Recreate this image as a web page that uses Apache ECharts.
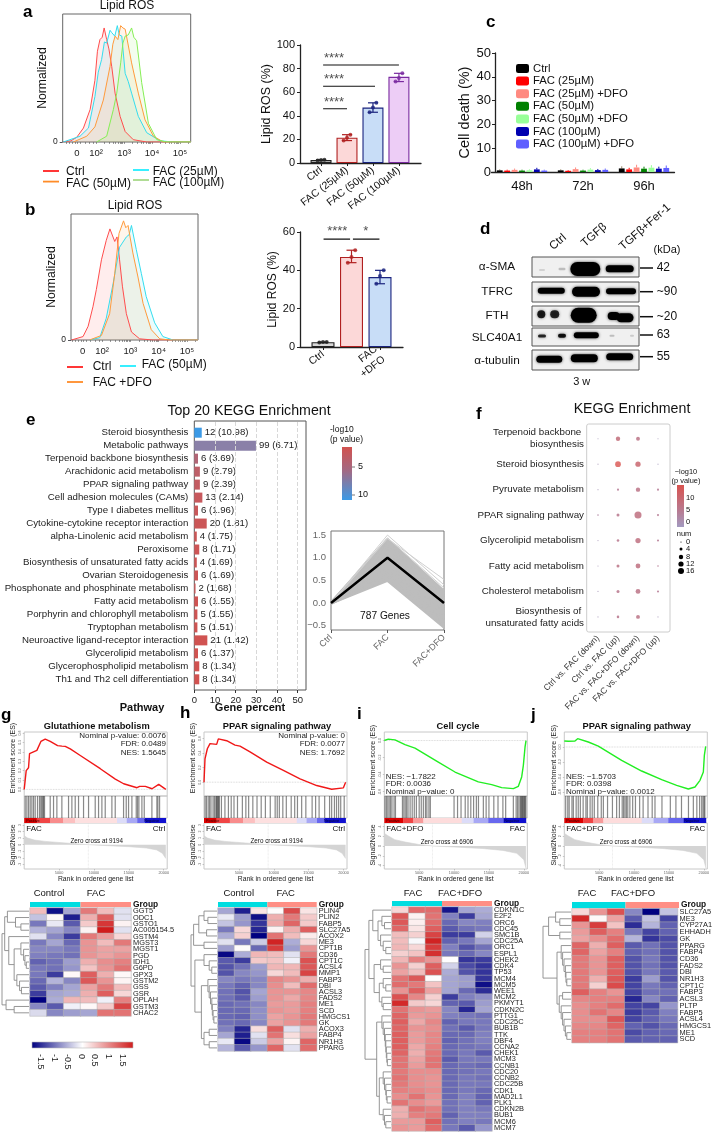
<!DOCTYPE html>
<html><head><meta charset="utf-8">
<style>html,body{margin:0;padding:0;background:#fff}#c{width:715px;height:1133px;filter:blur(.4px)}</style>
<script src="https://cdn.jsdelivr.net/npm/echarts@6/dist/echarts.min.js"></script>
</head><body><div id="c"></div>
<script>
// ---------- DATA ----------
const flowACtrl=[[.83,0],[1.1,1],[1.31,4],[1.55,12],[1.79,28],[1.96,53],[2.05,78],[2.14,88],[2.22,90],[2.29,98],[2.38,88],[2.46,80],[2.56,65],[2.68,42],[2.86,22],[3.04,9],[3.33,2],[3.81,0],[5.38,0]];
const flowA25=[[.83,0],[1.43,5],[1.73,12],[1.96,39],[2.08,60],[2.2,71],[2.3,86],[2.38,85],[2.5,96],[2.56,94],[2.67,91],[2.76,100],[2.83,92],[2.92,91],[3.04,59],[3.15,52],[3.27,42],[3.51,22],[3.81,8],[4.29,1],[4.76,0],[5.38,0]];
const flowA50=[[1.19,0],[1.67,5],[1.96,13],[2.26,36],[2.5,65],[2.6,84],[2.68,91],[2.78,88],[2.88,100],[2.96,98],[3.04,97],[3.27,68],[3.51,42],[3.75,19],[4.05,5],[4.4,0],[5.38,0]];
const flowA100=[[2.02,0],[2.38,5],[2.62,28],[2.74,42],[2.8,41],[2.88,68],[2.96,85],[3.04,91],[3.15,92],[3.27,98],[3.35,90],[3.45,87],[3.63,51],[3.87,16],[4.17,2],[4.52,0],[5.38,0]];
const flowBCtrl=[[.92,0],[1.33,3],[1.51,12],[1.68,29],[1.8,44],[1.98,70],[2.15,87],[2.28,97],[2.33,97],[2.45,86],[2.53,90],[2.62,70],[2.72,47],[2.86,23],[3.04,7],[3.33,1],[3.8,0],[5.39,0]];
const flowB50=[[1.56,0],[1.92,2],[2.15,19],[2.39,49],[2.62,81],[2.86,90],[2.96,92],[3.04,100],[3.21,79],[3.39,58],[3.56,38],[3.86,15],[4.15,3],[4.51,0],[5.39,0]];
const flowBDfo=[[1.56,0],[1.98,4],[2.27,23],[2.45,58],[2.6,93],[2.76,104],[2.84,98],[2.92,100],[3.09,76],[3.27,55],[3.45,32],[3.74,9],[4.04,1],[4.39,0],[5.39,0]];
const flowTicksLabel=[1.32,2,3,4,5];
const flowTickText={1.32:'0',2:'10²',3:'10³',4:'10⁴',5:'10⁵'};
const flowTicksMinor=[.95,1.05,1.15,1.25,1.32,1.45,1.6,1.75,1.9,2,2.3,2.48,2.6,2.7,2.78,2.85,2.9,2.95,3,3.3,3.48,3.6,3.7,3.78,3.85,3.9,3.95,4,4.3,4.48,4.6,4.7,4.78,4.85,4.9,4.95,5,5.3];

const barACats=['Ctrl','FAC (25µM)','FAC (50µM)','FAC (100µM)'];
const barAMeans=[2.5,21.5,47,73];
const barAPoints=[[2.2,2.6,2.7],[19,21.5,24],[43,47,51],[69,72,76]];
const barAFill=['#d8d8d8','#fcd8d8','#c8ddf7','#edcdf6'];
const barAEdge=['#222222','#b02020','#1a237e','#7a2aa0'];
const barBCats=['Ctrl','FAC (50µM)','FAC\n+DFO'];
const barBMeans=[2.5,47,36.5];
const barBPoints=[[2.3,2.6,2.6],[44,47,50.5],[33,37,40]];
const barBFill=['#d8d8d8','#fcd8d8','#c8ddf7'];
const barBEdge=['#222222','#b02020','#1a237e'];

const deathCats=['48h','72h','96h'];
const deathNames=['Ctrl','FAC (25µM)','FAC (25µM) +DFO','FAC (50µM)','FAC (50µM) +DFO','FAC (100µM)','FAC (100µM) +DFO'];
const deathColors=['#000000','#ff0000','#ff8a80','#008000','#99ff99','#0000b0','#5f5fff'];
const deathCtrl=[.7,.7,1.5];
const death25=[.6,.5,1.1];
const death25D=[.9,1.2,1.9];
const death50=[.6,.6,1.4];
const death50D=[.7,1.0,1.8];
const death100=[1.1,.8,1.4];
const death100D=[.6,.9,1.7];

const blotRows=['α-SMA','TFRC','FTH','SLC40A1','α-tubulin'];
const blotMass=['42','~90','~20','63','55'];
const blotFrames=[[0,20],[25,45],[49,69],[71,89],[93,113]];
const blotBands=[[10,13,6,2,.12],[30,12,7,2.5,.2],[53.3,12,30,14,1],[87.7,11.7,28,7,1],
 [19.3,33.7,27,6,1],[54,34.7,28,10,1],[89,34.3,30,6,1],
 [9.3,57.3,8,8,.85],[22.7,57.3,9,8,.8],[51.7,58.3,26,15,1],[81.7,59,12,8,1],[93,60.7,17,9,1],
 [10,79,8,3,.8],[30,78.7,8,4,.9],[54.3,78.3,25,6,1],[80,78.7,5,2,.2],[100,78.7,4,2,.15],
 [17.3,102.3,26,7,1],[52.3,101.3,27,8,1],[87.7,99.7,27,7,1]];

const keggNames=['Steroid biosynthesis','Metabolic pathways','Terpenoid backbone biosynthesis','Arachidonic acid metabolism','PPAR signaling pathway','Cell adhesion molecules (CAMs)','Type I diabetes mellitus','Cytokine-cytokine receptor interaction','alpha-Linolenic acid metabolism','Peroxisome','Biosynthesis of unsaturated fatty acids','Ovarian Steroidogenesis','Phosphonate and phosphinate metabolism','Fatty acid metabolism','Porphyrin and chlorophyll metabolism','Tryptophan metabolism','Neuroactive ligand-receptor interaction','Glycerolipid metabolism','Glycerophospholipid metabolism','Th1 and Th2 cell differentiation'];
const keggCount=[12,99,6,9,9,13,6,20,4,8,4,6,2,6,5,5,21,6,8,8];
const keggLogP=[10.98,6.71,3.69,2.79,2.39,2.14,1.96,1.81,1.75,1.71,1.69,1.69,1.68,1.55,1.55,1.51,1.42,1.37,1.34,1.34];
const keggPercent=[3.6,29.8,1.8,2.7,2.7,3.9,1.8,6,1.2,2.4,1.2,1.8,.6,1.8,1.5,1.5,6.3,1.8,2.4,2.4];

const trendCats=['Ctrl','FAC','FAC+DFO'];
const trendFac=[.5,.55,.6,.64,.68,.72,.76,.8,.84,.88,.92,.96,1,1.04,1.08,1.12,1.16,1.2,1.24,1.28,1.32,1.36,1.4,1.44,1.5,1.42];
const trendDfo=[-.53,-.5,-.47,-.44,-.41,-.38,-.35,-.32,-.29,-.25,-.22,-.18,-.14,-.1,-.06,-.02,.02,.06,.1,.14,.18,.22,.26,.33,.4,.52];
const trendMean=[0,1,0];

const dotRows=['Terpenoid backbone \nbiosynthesis','Steroid biosynthesis','Pyruvate metabolism','PPAR signaling pathway','Glycerolipid metabolism','Fatty acid metabolism','Cholesterol metabolism','Biosynthesis of \nunsaturated fatty acids'];
const dotCols=['Ctrl vs. FAC (down)','Ctrl vs. FAC (up)','FAC vs. FAC+DFO (down)','FAC vs. FAC+DFO (up)'];
const dotNum=[[0,7,6,0],[0,10,9,0],[0,2,7,2],[1,4,13,2],[0,3,9,2],[0,4,8,1],[0,4,8,2],[0,3,6,0]];
const dotLogP=[[.5,7,5,.5],[.5,13,9,.3],[.5,3,5,3],[2,4,6,3],[.5,4,6,3],[.5,5,6,3],[.5,4,5,3],[.5,4,5,.5]];

const gseaGEs=[[0,0],[287,.2],[622,.23],[766,.38],[1818,.415],[2392,.51],[3014,.535],[3732,.51],[4785,.465],[5407,.46],[5885,.457],[6603,.43],[8038,.36],[10909,.22],[13062,.11],[14258,.06],[16172,.018],[16555,.032],[17368,.032],[18325,.007],[19282,.053],[20300,0]];
const gseaHEs=[[0,0],[143,.32],[478,.46],[860,.53],[1816,.52],[2055,.595],[3250,.57],[4446,.51],[5163,.495],[6597,.416],[8988,.277],[11378,.162],[13769,.046],[16159,-.046],[18310,-.097],[19984,-.078],[20300,0]];
const gseaIEs=[[0,0],[574,.016],[1530,.008],[2964,-.047],[4398,-.089],[7744,-.252],[10134,-.369],[13480,-.485],[15392,-.517],[16826,-.552],[18500,-.563],[19217,-.536],[19695,-.427],[19934,-.291],[20173,-.078],[20317,0]];
const gseaJEs=[[0,.08],[574,.076],[1530,.08],[1912,.111],[3441,.067],[4875,.013],[8221,-.178],[11089,-.32],[13957,-.436],[16108,-.511],[17781,-.56],[18737,-.533],[19454,-.444],[19934,-.333],[20078,-.111],[20269,.009]];
const gseaGHits=[143,382,621,860,1099,1338,1577,1912,2199,2390,2533,2677,2772,2916,3728,4206,4684,5401,6357,6835,7313,7791,8508,9225,10181,10659,11137,11615,12571,13049,14244,14627,14961,15439,16061,16252,16443,16873,17208,18307,19024,19168,19407];
const gseaHHits=[150,350,600,800,1000,1300,1500,1700,1800,1900,2000,2100,2200,2500,3000,3500,3900,4300,4800,5500,6000,6400,7000,7600,8200,8800,9500,10200,10500,10800,11300,11800,12500,13000,13400,14000,14600,15500,16000,16500,17300,18000,18300,18700,19000,19300,19600,20100];
const gseaIHits=[100,300,500,700,900,1100,1400,1600,2600,2800,3000,3200,3400,3700,4000,4300,4600,5000,5300,5600,5900,6100,6400,6600,10000,10500,11000,11600,12000,12400,12800,13200,13500,14200,14600,15000,15700,16300,17000,17400,18500,18900,19100,19300,19500,19600,19700,19800,19900,20000,20100,20200,20300];
const gseaJHits=[200,500,700,1100,1300,1700,2000,2300,2700,3100,3300,3700,4000,4300,4800,5300,5600,6200,6900,7500,7900,8300,8500,8700,8900,9100,9400,9800,10200,10800,11300,12000,12600,13000,14000,15200,16000,16800,17800,18500,19000,19400,19700,19900,20050,20150];
const stripStopsA=[0,1800,3700,5600,7300,13300,14700,16200,17300,20300];
const stripStopsB=[0,2700,4150,5600,11100,12800,14900,17100,20300];
const stripColorsA=['#dd0000','#f04545','#f88c8c','#fcc0c0','#fde0e0','#dcdcf8','#a8a8f4','#6868ee','#1010d0'];
const stripColorsB=['#dd0000','#f04545','#f89a9a','#fddcdc','#dcdcf8','#a8a8f4','#6868ee','#1010d0'];
const rankA=[[0,1.35],[500,1.0],[1500,.7],[3000,.5],[6000,.25],[9194,0],[12000,-.15],[15000,-.3],[17500,-.5],[19000,-.8],[19800,-1.3],[20300,-2.1]];
const rankB=[[0,2.6],[400,2.2],[1500,1.3],[3000,.8],[5000,.3],[6906,0],[10000,-.2],[14000,-.5],[17000,-.9],[19000,-1.5],[20000,-2.8],[20300,-4.5]];

const hmGGenes=['GGT5','ODC1','GSTO1','AC005154.5','GSTM4','MGST3','MGST1','PGD','IDH1','G6PD','GPX3','GSTM2','GSS','GSR','OPLAH','GSTM3','CHAC2'];
const hmG=[[.5,-1.6,-.6,1,.5,-.2],[-.4,.05,-1.5,.6,1.2,-.2],[-.9,-.15,-1.1,.4,1.5,.1],[-.5,-.6,-.8,.1,1.7,-.2],[-.2,-.8,-1.3,1,.75,.3],[-.9,-.6,-1,.8,.5,1],[-.8,-.8,-.9,.8,.7,.7],[-.85,-.9,-.95,.8,.7,.8],[-1.05,-.95,-.65,.6,.85,.95],[-.9,-.95,-.7,.45,.8,1.05],[-.9,-1.3,.05,1.2,.6,.05],[-1,-.5,-.8,1.25,.8,.08],[-1.1,-.85,-.6,.7,1,.5],[-1.3,-.6,-.55,.6,1.2,.3],[-1.7,-.55,.55,.5,-.1,.95],[-.8,-1.1,-.1,.05,.4,1.4],[-.25,-.8,-.65,-.6,1.05,1.05]];
const hmHGenes=['PLIN4','PLIN2','FABP5','SLC27A5','ACOX2','ME3','CPT1B','CD36','CPT1C','ACSL4','MMP1','FABP3','DBI','ACSL3','FADS2','ME1','SCD','HMGCS1','GK','ACOX3','FABP4','NR1H3','PPARG'];
const hmH=[[-.6,-1.5,.2,.02,1.35,.2],[-.15,-.65,-1.6,.6,1,.4],[-.4,-.7,-1.35,.65,1.15,.4],[-.9,.3,-1.45,.1,.6,1.2],[-.55,.35,-1.7,1.05,.5,.15],[-.2,-.9,-.35,1.65,-.55,.3],[-.65,.03,-1,1.45,-.65,.8],[-1.65,-.55,.55,.5,-.2,1],[-1.1,-1.3,.4,.45,-.1,1.3],[-1.15,-.95,-.65,.55,.55,1.25],[-1.15,-.8,-.7,.3,.5,1.4],[-.8,-.9,-.8,.9,.8,.6],[-.9,-1.05,-.8,.85,.5,1.1],[-.95,-1.15,-.6,.8,.8,.9],[-.95,-1.1,-.65,.8,.65,.9],[-1,-.95,-.8,.75,.75,.95],[-1,-1,-.75,.8,.75,.95],[-1,-1.05,-.75,.7,.8,1],[-.95,-1,-.8,.7,.8,1],[-.85,-1.45,.25,1.2,-.2,.6],[-.6,-1.5,-.2,1.05,.25,.7],[-.15,-1.65,-.35,.7,.08,1.15],[-.5,-1.1,-.7,1.15,-.2,1.1]];
const hmIGenes=['CDKN1C','E2F2','ORC6','CDC45','SMC1B','CDC25A','ORC1','ESPL1','CHEK2','CDK4','TP53','MCM4','MCM5','WEE1','MCM2','PKMYT1','CDKN2C','PTTG1','CDC25C','BUB1B','TTK','DBF4','CCNA2','CHEK1','MCM3','CCNB1','CDC20','CCNB2','CDC25B','CDK1','MAD2L1','PLK1','CDKN2B','BUB1','MCM6','MCM7'];
const hmI=[[.3,1.1,1.1,-1.55,-.6,-.55],[1.25,.1,1.05,-.85,-1.3,-.6],[1.25,.12,1.1,-1,-.8,-.85],[1.15,.2,1.2,-1.1,-.95,-.9],[.5,.35,1.4,-1.3,-1.3,-.3],[.5,-.05,1.65,-1.05,-.9,-.6],[.55,.3,1.45,-.85,-1.15,-.95],[.35,.45,1.55,-.9,-1,-.8],[.55,.95,.8,.01,-1.35,-1.3],[.8,.35,1.2,-.3,-1.2,-1.35],[.7,.5,1.3,-.55,-1.15,-1.35],[1.05,1.25,.02,-.6,-.65,-1.35],[1.1,1,.45,-.6,-.65,-1.6],[.8,1.2,.7,-.6,-1,-1.4],[1.3,.9,.35,-1.3,-.85,-.75],[1.6,.4,.3,-1.05,-1.1,-.65],[1.05,.8,.75,-.8,-1.45,-.6],[1.15,.75,.8,-.85,-.9,-.95],[1.2,.65,.9,-1.05,-.9,-.9],[1.15,.8,.85,-.95,-1.1,-.9],[1.2,.75,.9,-1,-1,-.85],[1.2,.75,.9,-1.05,-.95,-.85],[1.2,.65,.95,-1,-.95,-.9],[1.15,.6,1,-1,-.9,-1.1],[1.05,.7,1.05,-1.1,-.9,-.9],[1.05,.75,1.05,-1,-.95,-1],[1,.85,.85,-1,-.95,-.9],[1.05,.85,.8,-1,-.9,-.95],[1,.85,.8,-1,-.9,-.9],[.95,.9,.85,-1,-.9,-1],[.85,1.05,.8,-1,-.85,-1.05],[1.05,.85,.75,-.95,-.85,-1.05],[.6,1.05,.95,-.95,-.85,-.9],[.6,.95,1,-1.05,-.85,-.85],[.75,.75,1.2,-.95,-.85,-.9],[.8,.75,1.1,-.9,-1.1,-.7]];
const hmJGenes=['SLC27A5','ME3','CYP27A1','EHHADH','GK','PPARG','FABP4','CD36','FADS2','DBI','NR1H3','CPT1C','FABP3','ACSL3','PLTP','FABP5','ACSL4','HMGCS1','ME1','SCD'];
const hmJ=[[.3,.8,1.3,-.8,-1.7,-.4],[1.6,.05,.7,-1.1,-.4,-1.25],[.8,1.45,.45,-1.4,-.5,-1.05],[.75,1.2,.95,-.9,-1.25,-1.05],[.7,.85,1.1,-.5,-1.35,-1.2],[1.15,.6,1.2,-1.1,-.95,-1.15],[1.15,.7,.95,-1.05,-.95,-1.15],[1,.8,1.2,-1.15,-.9,-1.15],[1,.8,1.2,-1.15,-.95,-1.15],[1,.8,1.2,-1.15,-.9,-1.1],[1,.6,1.25,-1.3,-.65,-1.15],[1,.35,1.35,-1.25,-.9,-1.05],[1.2,.95,.8,-1.25,-.95,-.95],[.9,.95,.95,-1.45,-.8,-1.05],[.85,.95,1.1,-1.25,-1.25,-.7],[.85,1.05,.9,-1.3,-1.1,-.85],[.85,.85,1.25,-1.25,-1.05,-.9],[.9,.9,1.15,-1.05,-1.15,-1],[.95,.95,1.05,-1.2,-1.05,-1],[.95,.95,1.05,-1.1,-1.05,-1.05]];
const treeG=[1,[.9,[.8,0,[.5,1,[.3,2,3]]],[.75,4,[.55,[.3,5,[.2,6,[.15,7,[.1,8,9]]]],[.45,10,[.35,11,[.28,12,13]]]]]],[.85,14,[.55,15,16]]];
const treeH=[1,[.9,[.7,[.5,0,[.35,1,2]],[.4,3,4]],[.5,5,6]],[.85,[.5,7,[.3,8,[.2,9,10]]],[.6,[.35,11,[.3,12,[.25,13,[.2,14,[.18,15,[.15,16,[.12,17,18]]]]]]],[.5,[.3,19,20],[.3,21,22]]]]];
const treeI=[1,[.85,[.7,0,[.5,[.35,1,[.25,2,3]],[.4,4,[.3,5,[.2,6,7]]]]],[.65,[.4,8,[.3,9,10]],[.45,[.3,11,[.2,12,13]],[.35,14,[.3,15,16]]]]],[.55,[.35,17,[.3,18,[.25,19,[.22,20,[.2,21,[.18,22,[.16,23,[.14,24,25]]]]]]]],[.45,[.3,26,[.25,27,[.2,28,[.18,29,[.15,30,31]]]]],[.3,32,[.25,33,[.2,34,35]]]]]];
const treeJ=[1,[.8,[.55,0,[.4,1,2]],[.4,3,4]],[.5,[.35,5,[.3,6,[.25,7,[.2,8,[.18,9,[.15,10,11]]]]]],[.42,[.3,12,13],[.35,14,[.3,15,[.25,16,[.2,17,[.15,18,19]]]]]]]];

// ---------- BUILD ----------
const FF='"Liberation Sans",Arial,sans-serif';
const grids=[],xAxes=[],yAxes=[],series=[],gfx=[];
function panel(l,t,w,h,gx,x,y){grids.push(Object.assign({left:l,top:t,width:w,height:h},gx||{}));const i=grids.length-1;
 xAxes.push(Object.assign({gridIndex:i},x));yAxes.push(Object.assign({gridIndex:i},y));return i;}
function S(i,o){series.push(Object.assign({xAxisIndex:i,yAxisIndex:i,animation:false,silent:true},o));}
function T(x,y,text,size,o){o=o||{};gfx.push({type:'text',x,y,z:100,rotation:o.rot||0,silent:true,style:{text,font:(o.bold?'bold ':'')+size+'px '+FF,fill:o.fill||'#111',textAlign:o.align||'left',textVerticalAlign:'middle'}});}
function L(x1,y1,x2,y2,c,w){gfx.push({type:'line',z:100,silent:true,shape:{x1,y1,x2,y2},style:{stroke:c,lineWidth:w||1.5}});}
const hide={type:'value',show:false};

// flow histograms
function flow(l,t,w,h,xmin,xmax,curves,yName,gap){
 const i=panel(l,t,w,h,{show:true,borderColor:'#666',borderWidth:1,backgroundColor:'transparent'},
  {type:'value',min:xmin,max:xmax,axisLine:{show:false,onZero:false},splitLine:{show:false},
   axisTick:{customValues:flowTicksMinor,length:2,lineStyle:{color:'#555',width:.6}},
   axisLabel:{customValues:flowTicksLabel,formatter:v=>flowTickText[v],fontSize:9.5,color:'#222',fontFamily:FF,margin:6,showMinLabel:true,showMaxLabel:true}},
  {type:'value',min:0,max:110,splitLine:{show:false},axisLine:{show:false},name:yName,nameLocation:'middle',nameGap:gap,nameTextStyle:{fontSize:12.2,color:'#111',fontFamily:FF},
   axisTick:{customValues:[0],length:3},axisLabel:{customValues:[0],fontSize:8.5,color:'#222',fontFamily:FF,margin:5,showMinLabel:true}});
 curves.forEach(c=>S(i,{type:'line',data:c[0],showSymbol:false,lineStyle:{color:c[1],width:1},itemStyle:{color:c[1]},areaStyle:{color:c[1],opacity:.1},z:3}));
}
flow(62.7,14,128,128,.81,5.38,[[flowACtrl,'#ff4d4d'],[flowA25,'#33ddee'],[flowA50,'#ff9a3c'],[flowA100,'#86ee55']],'Normalized',9);
flow(71,214,127,126,.905,5.39,[[flowBCtrl,'#ff4d4d'],[flowB50,'#33ddee'],[flowBDfo,'#ff9a3c']],'Normalized',2);
T(127,6,'Lipid ROS',12,{align:'center'});T(135,206,'Lipid ROS',12,{align:'center'});
[[43,59,171,'#ff2020','Ctrl',66,172],[43,59,181.6,'#ff8c28','FAC (50µM)',66,184],[133,149,170,'#22eeff','FAC (25µM)',152.7,172],[133,149,180,'#a8d88a','FAC (100µM)',152.7,183]].forEach(a=>{L(a[0],a[2],a[1],a[2],a[3],1.8);T(a[5],a[6],a[4],12);});
[[67,83,367,'#ff2020','Ctrl',92.7,367],[67,83,382,'#ff8c28','FAC +DFO',92.7,383],[120,136,366,'#22eeff','FAC (50µM)',141.7,365]].forEach(a=>{L(a[0],a[2],a[1],a[2],a[3],1.8);T(a[5],a[6],a[4],12);});

// bar + error + dots
function barPanel(l,t,w,h,xmin,xmax,ymax,yInt,cats,means,pts,fill,edge,bw,yName,gap,fs,nfs){
 const idx=cats.map((c,k)=>k);
 const i=panel(l,t,w,h,{},
  {type:'value',min:xmin,max:xmax,splitLine:{show:false},axisLine:{onZero:false,lineStyle:{color:'#222',width:1.3}},
   axisTick:{customValues:idx,length:3,lineStyle:{color:'#222'}},
   axisLabel:{customValues:idx,formatter:v=>cats[v],rotate:38,fontSize:fs,color:'#111',fontFamily:FF,margin:6,lineHeight:13,showMinLabel:true,showMaxLabel:true}},
  {type:'value',min:0,max:ymax,interval:yInt,splitLine:{show:false},axisLine:{show:true,onZero:false,lineStyle:{color:'#222',width:1.3}},axisTick:{show:true,length:3,lineStyle:{color:'#222'}},
   axisLabel:{fontSize:11,color:'#111',fontFamily:FF,margin:5},name:yName,nameLocation:'middle',nameGap:gap,nameTextStyle:{fontSize:nfs,color:'#111',fontFamily:FF}});
 S(i,{type:'bar',barWidth:bw,data:means.map((m,k)=>({value:[k,m],itemStyle:{color:fill[k],borderColor:edge[k],borderWidth:1.1}})),z:2});
 S(i,{type:'custom',z:3,data:means.map((m,k)=>[k,Math.min(...pts[k]),Math.max(...pts[k])]),clip:false,renderItem:(p,api)=>{
   const a=api.coord([api.value(0),api.value(1)]),b=api.coord([api.value(0),api.value(2)]),c=edge[p.dataIndex],st={stroke:c,lineWidth:1.2},d=5;
   return {type:'group',children:[{type:'line',shape:{x1:a[0],y1:a[1],x2:b[0],y2:b[1]},style:st},{type:'line',shape:{x1:a[0]-d,y1:a[1],x2:a[0]+d,y2:a[1]},style:st},{type:'line',shape:{x1:b[0]-d,y1:b[1],x2:b[0]+d,y2:b[1]},style:st}]};}});
 pts.forEach((arr,k)=>S(i,{type:'scatter',z:4,symbolSize:4,itemStyle:{color:edge[k]},data:arr.map((v,n)=>[k+(n-1)*.13,v])}));
 return i;
}
function sig(i,a,b,y,lab,tx,ly){S(i,{type:'line',showSymbol:false,z:5,lineStyle:{color:'#111',width:1.1},data:[[a,y],[b,y]]});
 S(i,{type:'scatter',z:5,symbolSize:0,data:[[tx,y]],label:{show:true,formatter:lab,position:'top',distance:ly,fontSize:13,color:'#222',fontFamily:FF}});}
const ba=barPanel(300,45,121,118,-.81,3.85,100,20,barACats,barAMeans,barAPoints,barAFill,barAEdge,21,'Lipid ROS (%)',26,10.5,12.5);
sig(ba,.08,3,83,'****',.5,0);sig(ba,.08,2.08,65,'****',.5,0);sig(ba,.08,1,46,'****',.5,0);
const bb=barPanel(300,232,103,115,-.807,2.807,60,20,barBCats,barBMeans,barBPoints,barBFill,barBEdge,23,'Lipid ROS (%)',19,10.5,12);
sig(bb,.02,.95,56.3,'****',.5,1);sig(bb,1.05,1.98,56.3,'*',1.5,1);

// c
const cg=panel(491.5,53,183,119,{},
 {type:'category',data:deathCats,axisLine:{lineStyle:{color:'#222',width:1.3}},axisTick:{show:false},axisLabel:{fontSize:13,color:'#111',fontFamily:FF,margin:8}},
 {type:'value',min:0,max:50,interval:10,offset:-3.5,splitLine:{show:false},axisLine:{show:true,lineStyle:{color:'#222',width:1.3}},axisTick:{show:true,length:3,lineStyle:{color:'#222'}},axisLabel:{fontSize:13,color:'#111',fontFamily:FF,margin:4},
  name:'Cell death (%)',nameLocation:'middle',nameGap:22,nameTextStyle:{fontSize:14.5,color:'#111',fontFamily:FF}});
[deathCtrl,death25,death25D,death50,death50D,death100,death100D].forEach((d,k)=>{
 S(cg,{type:'bar',name:deathNames[k],data:d,barWidth:5.8,barGap:'28%',itemStyle:{color:deathColors[k]},z:3});
 S(cg,{type:'custom',z:2,data:d.map((v,c)=>[c,v]),renderItem:(p,api)=>{const a=api.coord([api.value(0),api.value(1)]),b=api.coord([api.value(0),api.value(1)*1.6]),x=a[0]+(k-3)*7.42;
   return {type:'line',shape:{x1:x,y1:a[1],x2:x,y2:b[1]},style:{stroke:deathColors[k]==='#000000'?'#998866':deathColors[k],lineWidth:1}};}});
});

// d blots
const blot=panel(532,257,107,113,{},Object.assign({},hide,{min:0,max:107}),Object.assign({},hide,{min:0,max:113,inverse:true}));
S(blot,{type:'custom',z:2,data:blotFrames,renderItem:(p,api)=>{const a=api.coord([0,api.value(0)]),b=api.coord([107,api.value(1)]);
  return {type:'rect',shape:{x:a[0],y:a[1],width:b[0]-a[0],height:b[1]-a[1]},style:{fill:'#f0f0f0',stroke:'#555',lineWidth:1}};}});
S(blot,{type:'custom',z:3,data:blotBands,renderItem:(p,api)=>{const c=api.coord([api.value(0),api.value(1)]),w=api.value(2),h=api.value(3),k=api.value(4);
  return {type:'rect',shape:{x:c[0]-w/2,y:c[1]-h/2,width:w,height:h,r:h/2},style:{fill:'rgba(0,0,0,'+k+')',shadowBlur:3,shadowColor:'rgba(0,0,0,'+k*.7+')'}};}});
blotRows.forEach((r,k)=>T(497,[267,292,315.7,337.7,360.7][k],r,11.8,{align:'center'}));
blotMass.forEach((r,k)=>{const y=[268,291.7,316.7,335,356.7][k];T(656.7,y,r,12);L(640,y,653,y,'#111',1.5);});
T(558,242,'Ctrl',11.5,{align:'center',rot:.72});T(594,235,'TGFβ',11.5,{align:'center',rot:.72});T(645,227,'TGFβ+Fer-1',11.5,{align:'center',rot:.72});
T(667,250,'(kDa)',11,{align:'center'});T(581.7,381.7,'3 w',11,{align:'center'});

// e bars
function lerpHex(a,b,t){const p=h=>[1,3,5].map(i=>parseInt(h.substr(i,2),16));const A=p(a),B=p(b);return 'rgb('+A.map((v,i)=>Math.round(v+(B[i]-v)*t)).join(',')+')';}
function ramp(v,st){if(v<=st[0][0])return st[0][1];for(let i=1;i<st.length;i++)if(v<=st[i][0])return lerpHex(st[i-1][1],st[i][1],(v-st[i-1][0])/(st[i][0]-st[i-1][0]));return st[st.length-1][1];}
const eRamp=[[1.3,'#d2524f'],[6.7,'#8a80a8'],[11,'#3c9ae6']];
const ef=panel(194.3,421,111.7,269,{show:true,borderColor:'#555',borderWidth:1},
 {type:'value',min:0,max:54,splitLine:{show:false},axisLine:{show:false,onZero:false},axisTick:{customValues:[0,10,20,30,40,50],length:3,lineStyle:{color:'#333'}},axisLabel:{customValues:[0,10,20,30,40,50],fontSize:9.5,color:'#222',fontFamily:FF,margin:5}},
 Object.assign({},hide,{min:0,max:1}));
S(ef,{type:'line',data:[],markLine:{silent:true,symbol:'none',label:{show:false},animation:false,lineStyle:{type:'dashed',color:'#d8d8d8',width:1},data:[{xAxis:10},{xAxis:20},{xAxis:30},{xAxis:40},{xAxis:50}]}});
const eb=panel(194.3,426.2,111.7,259.6,{},Object.assign({},hide,{min:0,max:54}),
 {type:'category',inverse:true,data:keggNames,axisLine:{show:false},axisTick:{length:4,lineStyle:{color:'#333'}},axisLabel:{interval:0,fontSize:9.7,color:'#222',fontFamily:FF,margin:6}});
S(eb,{type:'bar',barWidth:10,z:4,data:keggPercent.map((v,k)=>({value:v,itemStyle:{color:ramp(keggLogP[k],eRamp)},label:{formatter:keggCount[k]+' ('+keggLogP[k].toFixed(2)+')'}})),label:{show:true,position:'right',distance:3,fontSize:9.6,color:'#222',fontFamily:FF}});
T(249,411,'Top 20 KEGG Enrichment',14.2,{align:'center'});
T(142,708,'Pathway',11,{align:'center',bold:true});T(250,708,'Gene percent',11,{align:'center',bold:true});
T(330,429.5,'-log10',8.5);T(330,440,'(p value)',8.5);
gfx.push({type:'rect',z:100,silent:true,shape:{x:342,y:447,width:10,height:53},style:{fill:new echarts.graphic.LinearGradient(0,0,0,1,[{offset:0,color:'#d2524f'},{offset:.45,color:'#a26a84'},{offset:1,color:'#3c9ae6'}])}});
L(352,467,355,467,'#555',.8);L(352,495,355,495,'#555',.8);T(358,467,'5',9);T(358,495,'10',9);

// e trend
const tr=panel(331,531,113,99,{show:true,borderColor:'#777',borderWidth:1},
 {type:'category',boundaryGap:false,data:trendCats,axisLine:{show:false,onZero:false},axisTick:{length:3,lineStyle:{color:'#555'}},axisLabel:{rotate:45,fontSize:9,color:'#666',fontFamily:FF,margin:6,interval:0,showMinLabel:true,showMaxLabel:true}},
 {type:'value',min:-.595,max:1.59,splitLine:{show:false},axisLine:{show:false},axisTick:{customValues:[-.5,0,.5,1,1.5],length:3,lineStyle:{color:'#555'}},axisLabel:{customValues:[-.5,0,.5,1,1.5],formatter:v=>v.toFixed(1).replace('-','−'),fontSize:9.5,color:'#666',fontFamily:FF,margin:5}});
trendFac.forEach((f,k)=>S(tr,{type:'line',showSymbol:false,z:2,lineStyle:{color:k>=23?'#d0d0d0':'#bdbdbd',width:k>=23?1:3},data:[0,f,trendDfo[k]]}));
S(tr,{type:'line',showSymbol:false,z:4,lineStyle:{color:'#000',width:2.4},data:trendMean});
T(385,616,'787 Genes',10.2,{align:'center'});

// f
const fRamp=[[0,'#a39ac0'],[3,'#b0708c'],[8,'#c0606a'],[13,'#d9534f']];
const fg=panel(588,426,80,203.6,{},
 {type:'category',data:dotCols,offset:2.4,axisLine:{show:false},axisTick:{alignWithLabel:true,length:2,lineStyle:{color:'#777'}},axisLabel:{interval:0,rotate:45,fontSize:8.6,color:'#333',fontFamily:FF,margin:5}},
 {type:'category',inverse:true,data:dotRows,axisLine:{show:false},axisTick:{alignWithLabel:true,length:2,lineStyle:{color:'#777'}},axisLabel:{interval:0,fontSize:9.8,color:'#222',fontFamily:FF,margin:4,lineHeight:12}});
const dotData=[];dotNum.forEach((r,y)=>r.forEach((n,x)=>dotData.push({value:[x,y,n],symbolSize:1.2+n*.45,itemStyle:{color:ramp(dotLogP[y][x],fRamp)}})));
S(fg,{type:'scatter',data:dotData,z:3});
gfx.push({type:'rect',z:1,silent:true,shape:{x:586.7,y:424,width:83.3,height:208,r:2},style:{fill:'none',stroke:'#ccc',lineWidth:1}});
T(632,409,'KEGG Enrichment',14.2,{align:'center'});
T(686,472,'−log10',7.4,{align:'center'});T(686,481,'(p value)',7.4,{align:'center'});
gfx.push({type:'rect',z:100,silent:true,shape:{x:677,y:485,width:7,height:42},style:{fill:new echarts.graphic.LinearGradient(0,0,0,1,[{offset:0,color:'#d9534f'},{offset:.6,color:'#b87a90'},{offset:1,color:'#a39ac0'}])}});
[['10',498],['5',510],['0',522]].forEach(a=>T(686,a[1],a[0],7.5));
T(684,534,'num',7.5,{align:'center'});
[['0',542,.6],['4',549,1.5],['8',557,2.2],['12',564,2.6],['16',571,3]].forEach(a=>{T(686,a[1],a[0],7.5);gfx.push({type:'circle',z:100,silent:true,shape:{cx:681,cy:a[1],r:a[2]},style:{fill:'#000'}});});

// GSEA
function gsea(c){
 const W=c.w,Lf=c.l;
 const box={show:true,borderColor:'#c8c8c8',borderWidth:1};
 const xa={type:'value',min:0,max:20500,splitLine:{show:false},axisLine:{show:false,onZero:false},axisTick:{show:false},axisLabel:{show:false}};
 const es=panel(Lf,732,W,64,box,xa,{type:'value',min:c.ymin,max:c.ymax,splitLine:{show:false},axisLine:{show:false},axisTick:{customValues:c.yt,length:1.5,lineStyle:{color:'#999',width:.5}},axisLabel:{customValues:c.yt,formatter:v=>v.toFixed(1),rotate:90,fontSize:3.6,color:'#666',margin:2}});
 S(es,{type:'line',z:2,showSymbol:false,lineStyle:{color:'#ccc',width:.8,type:'dotted'},data:[[0,0],[20500,0]]});
 S(es,{type:'line',z:3,showSymbol:false,lineStyle:{color:c.color,width:1.4},data:c.es});
 const hi=panel(Lf,796,W,22,box,xa,Object.assign({},hide,{min:0,max:1}));
 S(hi,{type:'scatter',symbol:'rect',symbolSize:[1.2,22],itemStyle:{color:'#333',opacity:.58},data:c.hits.map(r=>[r,.5])});
 const st=panel(Lf,818,W,5,{},xa,Object.assign({},hide,{min:0,max:1}));
 S(st,{type:'custom',data:c.cols.map((col,k)=>({value:[c.stops[k],c.stops[k+1]],itemStyle:{color:col}})),renderItem:(p,api)=>{const a=api.coord([api.value(0),1]),b=api.coord([api.value(1),0]);
   return {type:'rect',shape:{x:a[0],y:a[1],width:b[0]-a[0]+.3,height:b[1]-a[1]},style:{fill:api.visual('color')}};}});
 T(Lf+2,820.5,'Positive',3.8,{fill:'#300'});T(Lf+W-8,820.5,'Negative',3.8,{align:'right',fill:'#003'});
 const rk=panel(Lf,823,W,46,box,
  Object.assign({},xa,{axisTick:{show:true,customValues:[5000,10000,15000,20000],length:1.5,lineStyle:{color:'#999',width:.5}},axisLabel:{show:true,customValues:[5000,10000,15000,20000],formatter:v=>String(v),fontSize:3.8,color:'#666',margin:2}}),
  {type:'value',min:c.rmin,max:c.rmax,splitLine:{show:false},axisLine:{show:false},axisTick:{customValues:c.rt,length:1.5,lineStyle:{color:'#999',width:.5}},axisLabel:{customValues:c.rt,rotate:90,fontSize:3.6,color:'#666',margin:2}});
 S(rk,{type:'line',z:2,showSymbol:false,lineStyle:{color:'#d4d4d4',width:.6},areaStyle:{color:'#d4d4d4',opacity:1,origin:0},data:c.rank});
 S(rk,{type:'line',z:3,showSymbol:false,lineStyle:{color:'#ddd',width:.7,type:'dotted'},data:[[c.zero,c.rmin],[c.zero,c.rmax]]});
 T(c.tx,726,c.title,9.3,{align:'center',bold:true});
 c.stats.forEach((s,k)=>T(c.sx,c.sy[k],s,8,{align:c.sa,fill:'#222'}));
 T(Lf+2,828.4,c.left,8);T(Lf+W-2,828.4,c.right,8,{align:'right'});
 T(c.zx,c.zy,c.ztext,6.3,{align:'center'});
 T(c.lx,c.ly,'Enrichment score (ES)',7,{align:'center',rot:Math.PI/2,fill:'#222'});
 T(c.lx,845,'Signal2Noise',7,{align:'center',rot:Math.PI/2,fill:'#222'});
 T(Lf+W/2,879.4,'Rank in ordered gene list',6.8,{align:'center',fill:'#222'});
}
const sR=[736,744,752.5],sL=[777,784,792];
gsea({l:24.2,w:143,ymin:-.07,ymax:.61,yt:[0,.1,.2,.3,.4,.5,.6],color:'#f01818',es:gseaGEs,hits:gseaGHits,stops:stripStopsA,cols:stripColorsA,rank:rankA,zero:9194,rmin:-3.7,rmax:3.3,rt:[-3,-2,-1,0,1,2,3],title:'Glutathione metabolism',tx:96.7,stats:['Nominal p-value: 0.0076','FDR: 0.0489','NES: 1.5645'],sx:166,sy:sR,sa:'right',left:'FAC',right:'Ctrl',zx:96.7,zy:841,ztext:'Zero cross at 9194',lx:13,ly:758});
gsea({l:204,w:143,ymin:-.19,ymax:.69,yt:[0,.2,.4,.6],color:'#f01818',es:gseaHEs,hits:gseaHHits,stops:stripStopsA,cols:stripColorsA,rank:rankA,zero:9194,rmin:-3.7,rmax:3.3,rt:[-3,-2,-1,0,1,2,3],title:'PPAR signaling pathway',tx:277,stats:['Nominal p-value: 0','FDR: 0.0077','NES: 1.7692'],sx:345,sy:sR,sa:'right',left:'FAC',right:'Ctrl',zx:276.7,zy:841,ztext:'Zero cross at 9194',lx:193,ly:758});
gsea({l:384.3,w:143,ymin:-.65,ymax:.1,yt:[0,-.2,-.4,-.6],color:'#22ee22',es:gseaIEs,hits:gseaIHits,stops:stripStopsB,cols:stripColorsB,rank:rankB,zero:6906,rmin:-4.7,rmax:4.7,rt:[-4,-2,0,2,4],title:'Cell cycle',tx:458,stats:['NES: −1.7822','FDR: 0.0036','Nominal p−value: 0'],sx:385.7,sy:sL,sa:'left',left:'FAC+DFO',right:'FAC',zx:447,zy:842.7,ztext:'Zero cross at 6906',lx:373,ly:760});
gsea({l:564.3,w:143,ymin:-.653,ymax:.2,yt:[0,-.2,-.4,-.6],color:'#22ee22',es:gseaJEs,hits:gseaJHits,stops:stripStopsB,cols:stripColorsB,rank:rankB,zero:6906,rmin:-4.7,rmax:4.7,rt:[-4,-2,0,2,4],title:'PPAR signaling pathway',tx:636.7,stats:['NES: −1.5703','FDR: 0.0398','Nominal p−value: 0.0012'],sx:566,sy:sL,sa:'left',left:'FAC+DFO',right:'FAC',zx:626,zy:842.7,ztext:'Zero cross at 6906',lx:554,ly:760});

// heatmaps
const hmSeries=[];
function treeSegs(t,out){ if(typeof t==='number')return {h:0,y:t+.5};
 const a=treeSegs(t[1],out),b=treeSegs(t[2],out);
 out.push([a.h,a.y],[t[0],a.y],[t[0],b.y],[b.h,b.y],[null,null]);return {h:t[0],y:(a.y+b.y)/2};}
function heat(c){
 const n=c.genes.length;
 const hg=panel(c.x,c.y,c.w,c.h,{},
  {type:'category',data:[0,1,2,3,4,5],show:false},
  {type:'category',inverse:true,position:'right',data:c.genes,axisLine:{show:false},axisTick:{show:false},axisLabel:{interval:0,fontSize:7.4,color:'#222',fontFamily:FF,margin:2}});
 const d=[];c.vals.forEach((r,y)=>r.forEach((v,x)=>d.push([x,y,v])));
 S(hg,{type:'heatmap',data:d,itemStyle:{borderColor:'#b0b0b0',borderWidth:.5}});hmSeries.push(series.length-1);
 const sg=panel(c.x,c.sy,c.w,c.sh,{},Object.assign({},hide,{min:0,max:6}),
  {type:'category',position:'right',data:['Group'],axisLine:{show:false},axisTick:{show:false},axisLabel:{fontSize:8.4,fontWeight:'bold',color:'#111',fontFamily:FF,margin:2}});
 S(sg,{type:'bar',stack:'grp'+c.x,data:[3],barWidth:'100%',itemStyle:{color:'#00dde0'}});
 S(sg,{type:'bar',stack:'grp'+c.x,data:[3],barWidth:'100%',itemStyle:{color:'#ff8f85'}});
 const tg=panel(c.tl,c.y,c.x-c.tl-1,c.h,{},Object.assign({},hide,{min:0,max:1,inverse:true}),Object.assign({},hide,{min:0,max:n,inverse:true}));
 const segs=[];treeSegs(c.tree,segs);
 S(tg,{type:'line',showSymbol:false,connectNulls:false,lineStyle:{color:'#8a8a8a',width:.9},data:segs});
 T(c.lc,893,c.ln,9.5,{align:'center'});T(c.rc,893,c.rn,9.5,{align:'center'});
}
heat({x:30,y:908,w:101,h:108,sy:902,sh:5,tl:2,tree:treeG,genes:hmGGenes,vals:hmG,lc:49,ln:'Control',rc:96,rn:'FAC'});
heat({x:218,y:908,w:98.7,h:143,sy:902,sh:5,tl:191,tree:treeH,genes:hmHGenes,vals:hmH,lc:238.7,ln:'Control',rc:285.7,rn:'FAC'});
heat({x:392,y:907,w:100,h:224,sy:901,sh:5,tl:365,tree:treeI,genes:hmIGenes,vals:hmI,lc:413,ln:'FAC',rc:460,rn:'FAC+DFO'});
heat({x:572,y:908.7,w:107,h:134,sy:902,sh:6,tl:543,tree:treeJ,genes:hmJGenes,vals:hmJ,lc:587,ln:'FAC',rc:633,rn:'FAC+DFO'});
gfx.push({type:'rect',z:100,silent:true,shape:{x:32,y:1042,width:101,height:6},style:{stroke:'#bbb',lineWidth:.6,fill:new echarts.graphic.LinearGradient(0,0,1,0,[{offset:0,color:'#000080'},{offset:.5,color:'#ffffff'},{offset:1,color:'#d01c1c'}])}});
[['-1.5',40.7],['-1',54],['-0.5',67.7],['0',81],['0.5',94.7],['1',108],['1.5',122]].forEach(a=>gfx.push({type:'text',z:100,silent:true,x:a[1],y:1054,rotation:-Math.PI/2,style:{text:a[0],font:'9px '+FF,fill:'#222',textAlign:'left',textVerticalAlign:'middle'}}));

// panel letters
[['a',28,12],['b',30,210],['c',491,22],['d',485,229],['e',31,420],['f',481,414],['g',6,715],['h',185,713],['i',362,714],['j',536,715]].forEach(a=>T(a[1]-5,a[2],a[0],17,{bold:true,fill:'#000'}));

const chart=echarts.init(document.getElementById('c'),null,{width:715,height:1133,renderer:'canvas'});
chart.setOption({animation:false,backgroundColor:'#fff',textStyle:{fontFamily:FF},grid:grids,xAxis:xAxes,yAxis:yAxes,series,
 graphic:{elements:gfx},
 legend:{data:deathNames,orient:'vertical',left:511,top:58,itemWidth:13,itemHeight:9,itemGap:1.6,selectedMode:false,textStyle:{fontSize:11.3,color:'#111',fontFamily:FF,lineHeight:9,padding:[0,0,0,-1]}},
 visualMap:[{show:false,min:-1.7,max:1.7,seriesIndex:hmSeries,inRange:{color:['#000080','#ffffff','#d01c1c']}}]});
</script></body></html>
